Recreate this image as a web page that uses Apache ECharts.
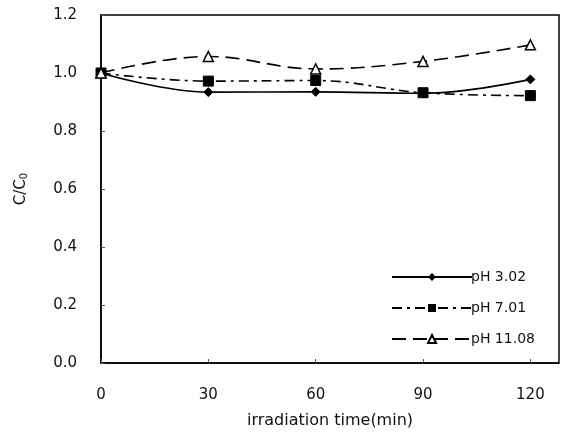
<!DOCTYPE html>
<html><head><meta charset="utf-8">
<script src="https://cdn.jsdelivr.net/npm/echarts@6/dist/echarts.min.js"></script>
<style>html,body{margin:0;padding:0;background:#fff}#c{width:565px;height:434px}</style>
</head><body><div id="c"></div>
<script>
var times = [0, 30, 60, 90, 120];
var ph302 = [1.0, 0.934, 0.935, 0.930, 0.978];
var ph701 = [1.0, 0.972, 0.974, 0.932, 0.922];
var ph1108 = [1.0, 1.057, 1.014, 1.040, 1.097];
var names = ['pH 3.02', 'pH 7.01', 'pH 11.08'];
var xTicks = [0, 30, 60, 90, 120];

function pairs(v){ return times.map(function(t,i){ return [t, v[i]]; }); }
var font = 'DejaVu Sans, sans-serif';
var chart = echarts.init(document.getElementById('c'));
chart.setOption({
  animation: false,
  grid: { left: 101, right: 6, top: 15, bottom: 68, show: true, borderColor: '#000', borderWidth: 1.5, backgroundColor: 'transparent' },
  xAxis: {
    type: 'value', min: 0, max: 128, interval: 30,
    name: 'irradiation time(min)', nameLocation: 'middle', nameGap: 50,
    nameTextStyle: { fontFamily: font, fontSize: 16, color: '#111' },
    axisLine: { show: true, onZero: false, lineStyle: { color: '#000', width: 1.5 } },
    axisTick: { show: true, inside: true, length: 4, lineStyle: { color: '#555' } },
    axisLabel: { fontFamily: font, fontSize: 15, color: '#111', margin: 25,
      formatter: function(v){ return xTicks.indexOf(v) >= 0 ? String(v) : ''; } },
    splitLine: { show: false }
  },
  yAxis: {
    type: 'value', min: 0, max: 1.2, interval: 0.2,
    name: 'C/C{s|0}', nameLocation: 'middle', nameGap: 72, nameRotate: 90,
    nameTextStyle: { fontFamily: font, fontSize: 15, color: '#111', rich: { s: { fontFamily: font, fontSize: 10, verticalAlign: 'bottom', padding: [6,0,0,0] } } },
    axisLine: { show: true, lineStyle: { color: '#000', width: 1.5 } },
    axisTick: { show: true, inside: true, length: 4, lineStyle: { color: '#555' } },
    axisLabel: { fontFamily: font, fontSize: 15, color: '#111', margin: 24,
      formatter: function(v){ return v.toFixed(1); } },
    splitLine: { show: false }
  },
  legend: {
    orient: 'vertical', left: 386, top: 265, itemWidth: 80, itemHeight: 10, itemGap: 17,
    textStyle: { fontFamily: font, fontSize: 14, color: '#111', padding: [0,0,0,-6] },
    data: names
  },
  series: [
    { name: names[0], type: 'line', smooth: 0.4, data: pairs(ph302),
      symbol: 'diamond', symbolSize: 9,
      lineStyle: { color: '#000', width: 1.6, type: 'solid' },
      itemStyle: { color: '#000', borderColor: '#000' } },
    { name: names[1], type: 'line', smooth: 0.4, data: pairs(ph701),
      symbol: 'rect', symbolSize: 10,
      lineStyle: { color: '#000', width: 1.6, type: [10, 5, 3, 5] },
      itemStyle: { color: '#000', borderColor: '#000' } },
    { name: names[2], type: 'line', smooth: 0.4, data: pairs(ph1108),
      symbol: 'triangle', symbolSize: 10,
      lineStyle: { color: '#000', width: 1.6, type: [14, 7] },
      itemStyle: { color: '#fff', borderColor: '#000', borderWidth: 1.5 } }
  ]
});
</script></body></html>
